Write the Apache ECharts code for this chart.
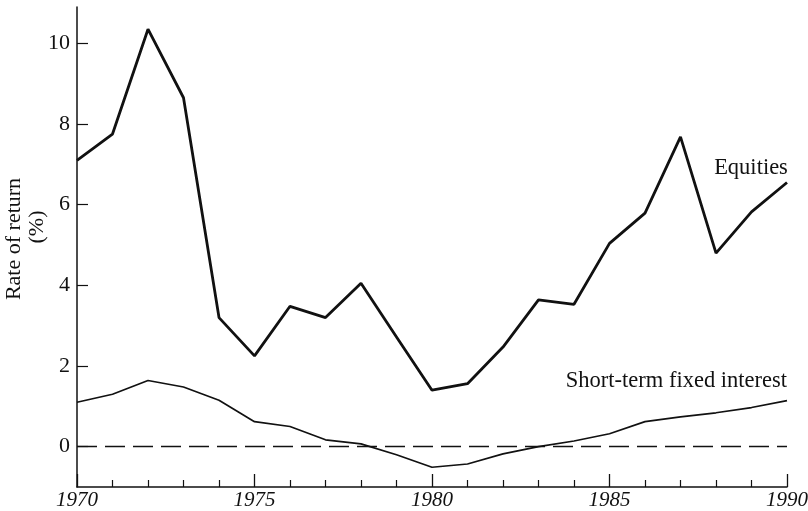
<!DOCTYPE html>
<html>
<head>
<meta charset="utf-8">
<script src="https://cdn.jsdelivr.net/npm/echarts@6/dist/echarts.min.js"></script>
<style>
  html, body { margin: 0; padding: 0; background: #fff; }
  #chart { width: 808px; height: 511px; }
</style>
</head>
<body>
<div id="chart"></div>
<script>
// values
var years = [1970, 1971, 1972, 1973, 1974, 1975, 1976, 1977, 1978, 1979, 1980,
             1981, 1982, 1983, 1984, 1985, 1986, 1987, 1988, 1989, 1990];
var equities = [7.1, 7.75, 10.35, 8.65, 3.2, 2.25, 3.48, 3.2, 4.05, 2.72, 1.4,
                1.56, 2.47, 3.64, 3.53, 5.04, 5.79, 7.68, 4.8, 5.82, 6.55];
var shortTerm = [1.1, 1.3, 1.64, 1.48, 1.15, 0.62, 0.5, 0.17, 0.07, -0.2, -0.51,
                 -0.43, -0.18, 0.0, 0.14, 0.32, 0.62, 0.74, 0.84, 0.97, 1.14];
var yTicks = [0, 2, 4, 6, 8, 10];

var FONT = '"Liberation Serif", "DejaVu Serif", serif';
var INK = '#111';

function pairs(vals) {
  return years.map(function (y, i) { return [y, vals[i]]; });
}

var chart = echarts.init(document.getElementById('chart'));
chart.setOption({
  animation: false,
  backgroundColor: '#fff',
  grid: { left: 77, right: 21, top: 7, bottom: 24, containLabel: false, outerBoundsMode: 'none' },
  xAxis: {
    type: 'value',
    min: 1970,
    max: 1990,
    interval: 5,
    axisLine: { onZero: false, lineStyle: { color: INK, width: 1.5 } },
    axisTick: { inside: true, length: 13, lineStyle: { color: INK, width: 1.3 } },
    minorTick: { show: true, splitNumber: 5, length: 7, lineStyle: { color: INK, width: 1.2 } },
    splitLine: { show: false },
    axisLabel: {
      color: INK, fontFamily: FONT, fontSize: 21, fontStyle: 'italic', margin: 3,
      formatter: function (v) { return String(v); }
    }
  },
  yAxis: {
    type: 'value',
    min: -1,
    max: 10.9,
    axisLine: { show: true, lineStyle: { color: INK, width: 1.5 } },
    axisTick: { show: true, inside: true, length: 11, customValues: yTicks, lineStyle: { color: INK, width: 1.2 } },
    splitLine: { show: false },
    axisLabel: {
      color: INK, fontFamily: FONT, fontSize: 22, margin: 7,
      customValues: yTicks
    }
  },
  series: [
    {
      name: 'Equities',
      type: 'line',
      data: pairs(equities),
      showSymbol: false,
      lineStyle: { color: INK, width: 2.8 },
      markLine: {
        silent: true,
        symbol: 'none',
        label: { show: false },
        lineStyle: { color: INK, width: 1.3, type: [20, 8] },
        data: [{ yAxis: 0 }]
      }
    },
    {
      name: 'Short-term fixed interest',
      type: 'line',
      data: pairs(shortTerm),
      showSymbol: false,
      lineStyle: { color: INK, width: 1.7 }
    }
  ],
  graphic: [
    {
      type: 'text',
      x: 14, y: 239,
      rotation: Math.PI / 2,
      style: { text: 'Rate of return', font: '22px ' + FONT, fill: INK, align: 'center', verticalAlign: 'middle' }
    },
    {
      type: 'text',
      x: 37, y: 227,
      rotation: Math.PI / 2,
      style: { text: '(%)', font: '22px ' + FONT, fill: INK, align: 'center', verticalAlign: 'middle' }
    },
    {
      type: 'text',
      x: 751, y: 168,
      style: { text: 'Equities', font: '22.5px ' + FONT, fill: INK, align: 'center', verticalAlign: 'middle' }
    },
    {
      type: 'text',
      x: 787, y: 381,
      style: { text: 'Short-term fixed interest', font: '22.5px ' + FONT, fill: INK, align: 'right', verticalAlign: 'middle' }
    }
  ]
});
</script>
</body>
</html>
